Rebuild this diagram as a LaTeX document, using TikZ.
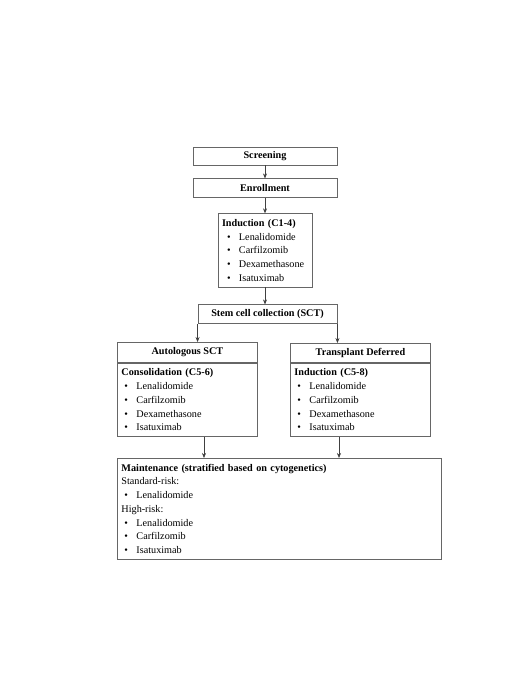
\documentclass[tikz,border=0pt]{standalone}
\usepackage{fontspec}
\setmainfont{Liberation Serif}
\usetikzlibrary{arrows.meta,positioning}
\newcommand{\bitem}[2][3pt]{\hspace*{#1}\makebox[12pt][l]{\textbullet}#2}
\tikzset{
  hdr/.style={draw=black!60,line width=0.9pt,inner sep=2pt,
              minimum height=19pt,
              font=\fontsize{10.2}{12}\selectfont\bfseries},
  lst/.style={draw=black!60,line width=0.9pt,inner xsep=4pt,inner ysep=5.5pt,
              align=left,anchor=north west,
              font=\fontsize{10.2}{13.75}\selectfont},
  arr/.style={-{Stealth[length=5pt,width=4pt]},line width=0.6pt,color=black!75},
}

\begin{document}
\begin{tikzpicture}[x=1pt,y=-1pt]
  \useasboundingbox[fill=white] (0,0) rectangle (520,677);

  % main column
  \node[hdr,minimum width=144pt,minimum height=18pt] (scr) at (265,156) {Screening};
  \node[hdr,minimum width=144pt,below=13pt of scr] (enr) {Enrollment};
  \node[lst,text width=86pt,below=15pt of enr,anchor=north] (ind)
    {\textbf{Induction (C1-4)}\\
     \bitem[5pt]{Lenalidomide}\\
     \bitem[5pt]{Carfilzomib}\\
     \bitem[5pt]{Dexamethasone}\\
     \bitem[5pt]{Isatuximab}};
  \node[hdr,minimum width=139pt,below=17pt of ind,xshift=2.5pt] (stem)
    {Stem cell collection (SCT)};

  % two arms
  \node[hdr,minimum width=140pt,minimum height=20pt,anchor=north west] (autoH) at (117,342)
    {Autologous SCT};
  \node[lst,text width=132pt,below=0pt of autoH] (autoB)
    {\textbf{Consolidation (C5-6)}\\
     \bitem{Lenalidomide}\\
     \bitem{Carfilzomib}\\
     \bitem{Dexamethasone}\\
     \bitem{Isatuximab}};
  \node[hdr,minimum width=140pt,anchor=north west] (trH) at (290,343)
    {Transplant Deferred};
  \node[lst,text width=132pt,below=0pt of trH] (trB)
    {\textbf{Induction (C5-8)}\\
     \bitem{Lenalidomide}\\
     \bitem{Carfilzomib}\\
     \bitem{Dexamethasone}\\
     \bitem{Isatuximab}};

  % maintenance
  \node[lst,text width=316pt] (mnt) at (117,458)
    {\textbf{Maintenance (stratified based on cytogenetics)}\\
     Standard-risk:\\
     \bitem{Lenalidomide}\\
     High-risk:\\
     \bitem{Lenalidomide}\\
     \bitem{Carfilzomib}\\
     \bitem{Isatuximab}};

  \coordinate (xa) at (204,0);
  \coordinate (xt) at (339,0);

  \draw[arr] (scr.south) -- (enr.north);
  \draw[arr] (enr.south) -- (enr.south |- ind.north);
  \draw[arr] (ind.south) -- (ind.south |- stem.north);
  \draw[arr] (stem.south west) -- (stem.south west |- autoH.north);
  \draw[arr] (stem.south east) -- (stem.south east |- trH.north);
  \draw[arr] (autoB.south -| xa) -- (mnt.north -| xa);
  \draw[arr] (trB.south -| xt) -- (mnt.north -| xt);
\end{tikzpicture}
\end{document}
